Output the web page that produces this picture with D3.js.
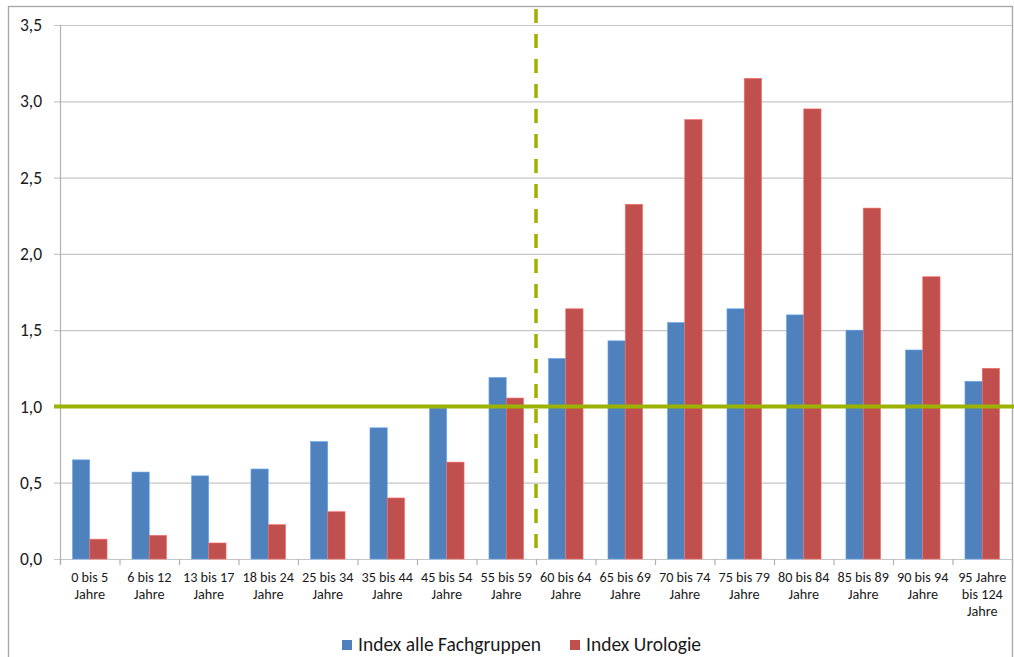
<!DOCTYPE html>
<html>
<head>
<meta charset="utf-8">
<script src="https://cdn.jsdelivr.net/npm/d3@7"></script>
<style>
  html, body { margin: 0; padding: 0; background: #fff; }
  svg { display: block; font-family: Carlito, Lato, "Open Sans", sans-serif; }
</style>
</head>
<body>
<svg id="chart" width="1014" height="657"></svg>
<script>
// Age groups (two-line labels, split on "|")
const categories = [
  "0 bis 5|Jahre", "6 bis 12|Jahre", "13 bis 17|Jahre", "18 bis 24|Jahre",
  "25 bis 34|Jahre", "35 bis 44|Jahre", "45 bis 54|Jahre", "55 bis 59|Jahre",
  "60 bis 64|Jahre", "65 bis 69|Jahre", "70 bis 74|Jahre", "75 bis 79|Jahre",
  "80 bis 84|Jahre", "85 bis 89|Jahre", "90 bis 94|Jahre", "95 Jahre|bis 124|Jahre"
];
const seriesNames = ["Index alle Fachgruppen", "Index Urologie"];
const indexAlle = [0.65, 0.57, 0.545, 0.59, 0.77, 0.86, 0.99, 1.19,
                   1.315, 1.43, 1.55, 1.64, 1.6, 1.5, 1.37, 1.165];
const indexUrologie = [0.13, 0.155, 0.105, 0.225, 0.31, 0.40, 0.635, 1.055,
                       1.64, 2.325, 2.88, 3.15, 2.95, 2.3, 1.85, 1.25];
const yTicks = [0, 0.5, 1, 1.5, 2, 2.5, 3, 3.5];
const referenceValue = 1.0;
const splitCategory = "60 bis 64|Jahre";

const colors = ["#4f81bd", "#c0504d"];
const green = "#9bb300";

const svg = d3.select("#chart");

// Outer chart frame
svg.append("rect")
  .attr("x", 8.5).attr("y", 6.5)
  .attr("width", 1004).attr("height", 700)
  .attr("fill", "none").attr("stroke", "#a6a6a6").attr("stroke-width", 1.3);

const plot = { left: 60, right: 1012, top: 25, bottom: 559 };

const x0 = d3.scaleBand().domain(categories).range([plot.left, plot.right]).padding(0);
const x1 = d3.scaleBand().domain(seriesNames).range([0, x0.bandwidth()])
  .paddingInner(0).paddingOuter(0.72);
const y = d3.scaleLinear().domain([0, 3.5]).range([plot.bottom, plot.top]);

// Horizontal gridlines
svg.append("g")
  .selectAll("line")
  .data(yTicks)
  .join("line")
  .attr("x1", plot.left - 6).attr("x2", plot.right)
  .attr("y1", d => y(d) + 0.5).attr("y2", d => y(d) + 0.5)
  .attr("stroke", "#c6c6c6").attr("stroke-width", 1.2);

// Y tick labels
const fmt = d => d3.format(".1f")(d).replace(".", ",");
svg.append("g")
  .selectAll("text")
  .data(yTicks)
  .join("text")
  .attr("x", 42).attr("y", d => y(d))
  .attr("dy", "0.35em")
  .attr("text-anchor", "end")
  .attr("font-size", 17.5)
  .attr("fill", "#1a1a1a")
  .text(fmt);

// Y axis line
svg.append("line")
  .attr("x1", plot.left + 0.5).attr("x2", plot.left + 0.5)
  .attr("y1", plot.top).attr("y2", plot.bottom + 5)
  .attr("stroke", "#b0b0b0").attr("stroke-width", 1.2);

// X tick marks at category boundaries
const boundaries = categories.map(c => x0(c)).concat([plot.right]);
svg.append("g")
  .selectAll("line")
  .data(boundaries)
  .join("line")
  .attr("x1", d => d + 0.5).attr("x2", d => d + 0.5)
  .attr("y1", plot.bottom).attr("y2", plot.bottom + 6)
  .attr("stroke", "#b0b0b0").attr("stroke-width", 1.2);

// Bars
const rows = categories.map((c, i) => ({ cat: c, values: [indexAlle[i], indexUrologie[i]] }));
const groups = svg.append("g")
  .selectAll("g")
  .data(rows)
  .join("g")
  .attr("transform", d => `translate(${x0(d.cat)},0)`);

groups.selectAll("rect")
  .data(d => d.values.map((v, k) => ({ key: seriesNames[k], v, k })))
  .join("rect")
  .attr("x", d => x1(d.key))
  .attr("y", d => y(d.v))
  .attr("width", x1.bandwidth())
  .attr("height", d => y(0) - y(d.v))
  .attr("fill", d => colors[d.k])
  .attr("stroke", d => d3.color(colors[d.k]).brighter(0.8))
  .attr("stroke-width", 0.6);

// Category labels
const labels = svg.append("g")
  .selectAll("text")
  .data(categories)
  .join("text")
  .attr("x", d => x0(d) + x0.bandwidth() / 2)
  .attr("y", 582)
  .attr("text-anchor", "middle")
  .attr("font-size", 14.2)
  .attr("fill", "#1a1a1a");
labels.selectAll("tspan")
  .data(d => d.split("|"))
  .join("tspan")
  .attr("x", function () { return d3.select(this.parentNode).attr("x"); })
  .attr("dy", (d, i) => i === 0 ? 0 : 16.8)
  .text(d => d);

// Reference line at index 1,0
svg.append("line")
  .attr("x1", plot.left - 6).attr("x2", 1014)
  .attr("y1", y(referenceValue)).attr("y2", y(referenceValue))
  .attr("stroke", green).attr("stroke-width", 4);

// Dashed separator between 55–59 and 60–64
svg.append("line")
  .attr("x1", x0(splitCategory)).attr("x2", x0(splitCategory))
  .attr("y1", 9).attr("y2", plot.bottom)
  .attr("stroke", green).attr("stroke-width", 3.5)
  .attr("stroke-dasharray", "14 11");

// Legend
const legend = svg.append("g");
const legendItems = [
  { name: seriesNames[0], x: 342 },
  { name: seriesNames[1], x: 570 }
];
legendItems.forEach((item, k) => {
  legend.append("rect")
    .attr("x", item.x).attr("y", 640)
    .attr("width", 10).attr("height", 10)
    .attr("fill", colors[k]);
  legend.append("text")
    .attr("x", item.x + 16).attr("y", 651)
    .attr("font-size", 19.5)
    .attr("fill", "#1a1a1a")
    .text(item.name);
});
</script>
</body>
</html>
